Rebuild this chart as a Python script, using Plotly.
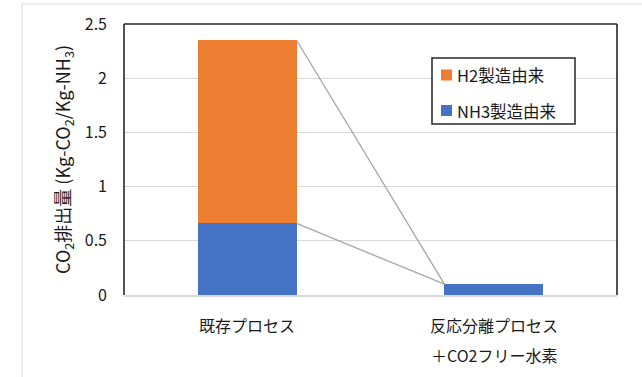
import plotly.graph_objects as go

# Data
categories = ["既存プロセス", "反応分離プロセス\n＋CO2フリー水素"]
series_names = ["NH3製造由来", "H2製造由来"]
nh3_values = [0.66, 0.10]
h2_values = [1.69, 0.00]
series_colors = {"NH3製造由来": "#4472C4", "H2製造由来": "#ED7D31"}
y_ticks = [0, 0.5, 1, 1.5, 2, 2.5]

FONT = "Noto Sans CJK JP"
TEXT = "#1a1a1a"
W, H = 642, 377
L, R, T, B = 124, 25, 24, 82
PW, PH = W - L - R, H - T - B


def px_x(p):
    return (p - L) / PW


def px_y(p):
    return (H - B - p) / PH


xpos = list(range(len(categories)))
bar_w = 0.4

fig = go.Figure()
fig.add_trace(go.Bar(x=xpos, y=nh3_values, width=bar_w, name=series_names[0],
                     marker=dict(color=series_colors[series_names[0]], line=dict(width=0)),
                     showlegend=False))
fig.add_trace(go.Bar(x=xpos, y=h2_values, width=bar_w, name=series_names[1],
                     marker=dict(color=series_colors[series_names[1]], line=dict(width=0)),
                     showlegend=False))

# Series lines joining the top of each stacked segment between the two bars
tops_nh3 = nh3_values
tops_h2 = [a + b for a, b in zip(nh3_values, h2_values)]
for tops in (tops_h2, tops_nh3):
    fig.add_trace(go.Scatter(x=[xpos[0] + bar_w / 2, xpos[1] - bar_w / 2],
                             y=[tops[0], tops[1]], mode="lines",
                             line=dict(color="#A5A5A5", width=1.3),
                             hoverinfo="skip", showlegend=False))

shapes = []
# outer chart frame
shapes.append(dict(type="rect", xref="paper", yref="paper",
                   x0=px_x(22), x1=px_x(660), y0=px_y(400), y1=px_y(4),
                   line=dict(color="#d9d9d9", width=1), layer="below"))
# plot area frame: left, top, right
for x0, y0, x1, y1 in [(0, 0, 0, 1), (0, 1, 1, 1), (1, 0, 1, 1)]:
    shapes.append(dict(type="line", xref="paper", yref="paper",
                       x0=x0, y0=y0, x1=x1, y1=y1,
                       line=dict(color="#262626", width=1.6)))

annotations = []
# category labels
for xi, cat in zip(xpos, categories):
    for li, line in enumerate(cat.split("\n")):
        annotations.append(dict(x=xi, xref="x", y=0, yref="paper",
                                text=line, showarrow=False,
                                xanchor="center", yanchor="middle",
                                yshift=-(30 + 30 * li),
                                font=dict(family=FONT, size=16, color=TEXT)))

# legend box
shapes.append(dict(type="rect", xref="paper", yref="paper",
                   x0=px_x(432), x1=px_x(575), y0=px_y(124), y1=px_y(58),
                   fillcolor="white", line=dict(color="#262626", width=1.5)))
legend_items = [("H2製造由来", 75), ("NH3製造由来", 110.5)]
for name, yc in legend_items:
    shapes.append(dict(type="rect", xref="paper", yref="paper",
                       x0=px_x(441), x1=px_x(452), y0=px_y(yc + 5.5), y1=px_y(yc - 5.5),
                       fillcolor=series_colors[name], line=dict(width=0)))
    annotations.append(dict(x=px_x(455), xref="paper", y=px_y(yc), yref="paper",
                            text=name, showarrow=False, xanchor="left", yanchor="middle",
                            font=dict(family=FONT, size=16.5, color=TEXT)))

fig.update_layout(
    width=W, height=H,
    margin=dict(l=L, r=R, t=T, b=B),
    paper_bgcolor="white", plot_bgcolor="white",
    barmode="stack",
    font=dict(family=FONT, color=TEXT),
    shapes=shapes, annotations=annotations,
    showlegend=False,
    xaxis=dict(range=[-0.5, 1.5], tickvals=xpos, showticklabels=False,
               showgrid=False, zeroline=False, ticks="",
               showline=True, linecolor="#d9d9d9", linewidth=1.5),
    yaxis=dict(range=[0, 2.5], tickvals=y_ticks,
               ticktext=[f"{v:g}" for v in y_ticks],
               showgrid=True, gridcolor="#d9d9d9", gridwidth=1,
               zeroline=False, ticks="", ticklabelstandoff=16,
               tickfont=dict(family=FONT, size=16, color=TEXT),
               title=dict(text="CO<sub>2</sub>排出量 (Kg-CO<sub>2</sub>/Kg-NH<sub>3</sub>)",
                          font=dict(family=FONT, size=18, color=TEXT), standoff=9)),
)

fig.write_html("out.html")
